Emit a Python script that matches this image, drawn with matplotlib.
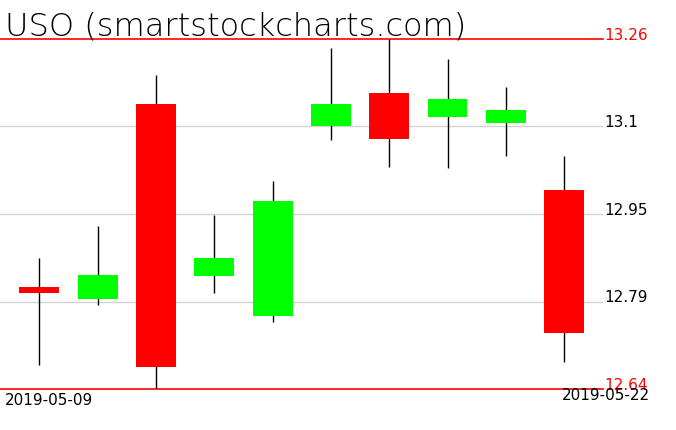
import matplotlib
matplotlib.use("Agg")
import matplotlib.pyplot as plt

# daily OHLC
dates = ['2019-05-09', '2019-05-10', '2019-05-13', '2019-05-14', '2019-05-15',
         '2019-05-16', '2019-05-17', '2019-05-20', '2019-05-21', '2019-05-22']
opens = [12.821, 12.800, 13.145, 12.841, 12.770, 13.105, 13.164, 13.122, 13.112, 12.993]
highs = [12.872, 12.929, 13.196, 12.948, 13.009, 13.244, 13.260, 13.225, 13.175, 13.053]
lows = [12.683, 12.788, 12.640, 12.810, 12.759, 13.081, 13.034, 13.032, 13.052, 12.688]
closes = [12.810, 12.842, 12.679, 12.872, 12.973, 13.145, 13.082, 13.154, 13.134, 12.740]

y_min, y_max = 12.64, 13.26
grid_vals = [13.105, 12.95, 12.795]
grid_labels = ['13.1', '12.95', '12.79']

W, H = 676, 431
fig = plt.figure(figsize=(W / 100, H / 100), dpi=100)
ax = fig.add_axes([0, 1 - 390 / H, 603 / W, 350 / H])
ax.set_xlim(-0.676, 9.667)
ax.set_ylim(y_min, y_max)
ax.axis('off')

x = list(range(len(dates)))

# grid and range lines
for v in grid_vals:
    ax.axhline(v, color='#d3d3d3', linewidth=1, zorder=1)
ax.axhline(y_max, color='#ff0000', linewidth=1.2, zorder=1, clip_on=False)
ax.axhline(y_min, color='#ff0000', linewidth=1.2, zorder=1, clip_on=False)

# candles
ax.vlines(x, lows, highs, color='black', linewidth=1, zorder=2)
colors = ['#00ff00' if c >= o else '#ff0000' for o, c in zip(opens, closes)]
bottoms = [min(o, c) for o, c in zip(opens, closes)]
heights = [abs(c - o) for o, c in zip(opens, closes)]
ax.bar(x, heights, bottom=bottoms, width=0.685, color=colors, zorder=3)

# right side labels
def ypix(v):
    return 1 - (40 + (y_max - v) / (y_max - y_min) * 350) / H

lab_x = 604 / W
fig.text(lab_x, ypix(y_max) + 5 / H, '13.26', color='#ff0000', fontsize=11,
         va='center', ha='left')
for v, lab in zip(grid_vals, grid_labels):
    fig.text(lab_x, ypix(v) + 5 / H, lab, color='black', fontsize=11,
             va='center', ha='left')
fig.text(lab_x, ypix(y_min) + 5 / H, '12.64', color='#ff0000', fontsize=11,
         va='center', ha='left')

# date labels
fig.text(5 / W, 1 - 401 / H, dates[0], fontsize=11, va='center', ha='left')
fig.text(650 / W, 1 - 396 / H, dates[-1], fontsize=11, va='center', ha='right')

# title
fig.text(5 / W, 1 - 26 / H, 'USO (smartstockcharts.com)', fontsize=23,
         fontweight='light', color='black', va='center', ha='left')

fig.savefig('out.png', dpi=100)
